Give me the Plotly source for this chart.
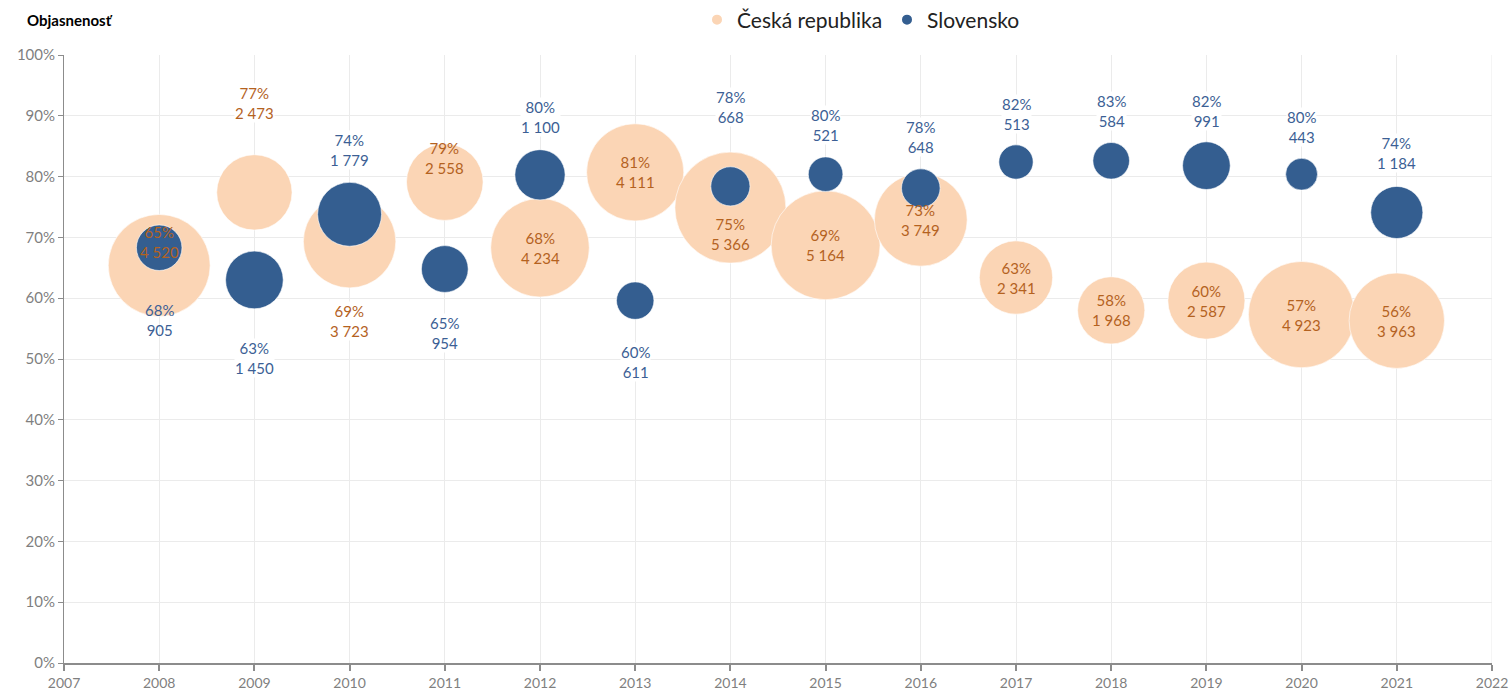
import plotly.graph_objects as go

years = [2008, 2009, 2010, 2011, 2012, 2013, 2014, 2015, 2016, 2017, 2018, 2019, 2020, 2021]

cz_name = "Česká republika"
cz_rate = [65.4, 77.4, 69.3, 79.1, 68.3, 80.7, 74.9, 68.7, 72.9, 63.4, 58.0, 59.6, 57.3, 56.3]
cz_count = [4520, 2473, 3723, 2558, 4234, 4111, 5366, 5164, 3749, 2341, 1968, 2587, 4923, 3963]

sk_name = "Slovensko"
sk_rate = [68.3, 63.0, 73.8, 64.8, 80.3, 59.6, 78.4, 80.4, 78.1, 82.4, 82.6, 81.8, 80.4, 74.1]
sk_count = [905, 1450, 1779, 954, 1100, 611, 668, 521, 648, 513, 584, 991, 443, 1184]

y_title = "Objasnenosť"
x_ticks = list(range(2007, 2023))
y_ticks = list(range(0, 101, 10))

# label styling (pixel offsets of labels relative to bubble centres, + = up)
cz_label_shift = [23, 89, -79, 24, 0, 0, -26, 0, 0, 0, 0, 0, 0, 0]
cz_label_bg = [False, True, True, False, False, False, False, False, False, False, False, False, False, False]
sk_label_shift = [-72, -78, 64, -64, 58, -61, 79, 49, 51, 48, 50, 55, 47, 59]
sk_label_bg = [False, True, True, True, True, True, True, True, True, True, True, True, True, True]

CZ_FILL = "#FBD5B5"
CZ_TEXT = "#B4621F"
SK_FILL = "#345E90"
SK_TEXT = "#3C5F95"
GRID = "#EBEBEB"
FONT = "Lato, 'Open Sans', sans-serif"

W, H = 1509, 691
ML, MR, MT, MB = 64, 17, 55, 28
PW, PH = W - ML - MR, H - MT - MB

max_count = max(cz_count + sk_count)
max_diam = 111
sizeref = 2 * max_count / max_diam ** 2


def fmt(n):
    return f"{n:,}".replace(",", " ")


fig = go.Figure()
for name, rate, count, fill in [(cz_name, cz_rate, cz_count, CZ_FILL), (sk_name, sk_rate, sk_count, SK_FILL)]:
    fig.add_trace(go.Scatter(
        x=years, y=rate, mode="markers", name=name,
        marker=dict(size=count, sizemode="area", sizeref=sizeref, color=fill,
                    opacity=1, line=dict(width=0.6, color="white")),
        hoverinfo="x+y+text", text=[fmt(c) for c in count],
    ))

annotations = []
for rate, count, shifts, bgs, col in [(cz_rate, cz_count, cz_label_shift, cz_label_bg, CZ_TEXT),
                                       (sk_rate, sk_count, sk_label_shift, sk_label_bg, SK_TEXT)]:
    for yr, r, c, s, bg in zip(years, rate, count, shifts, bgs):
        annotations.append(dict(
            x=yr, y=r, xref="x", yref="y", text=f"{round(r)}%<br>{fmt(c)}",
            showarrow=False, yshift=s, yanchor="middle", xanchor="center",
            font=dict(family=FONT, size=15, color=col),
            bgcolor="white" if bg else "rgba(0,0,0,0)", borderpad=0,
        ))

# screen-pixel positions converted to paper coordinates
def px(x):
    return (x - ML) / PW


def py(y):
    return 1 + (MT - y) / PH


annotations.append(dict(
    x=px(25), y=py(20), xref="paper", yref="paper", text=f"<b>{y_title}</b>",
    showarrow=False, xanchor="left", yanchor="middle",
    font=dict(family=FONT, size=15, color="black"),
))

fig.update_layout(
    width=W, height=H,
    margin=dict(l=ML, r=MR, t=MT, b=MB, autoexpand=False),
    paper_bgcolor="white", plot_bgcolor="white",
    font=dict(family=FONT, color="#7f7f7f"),
    showlegend=True,
    legend=dict(orientation="h", x=px(887), xanchor="center", y=py(20),
                yanchor="middle", font=dict(family=FONT, size=21, color="#222222"),
                itemsizing="constant", entrywidth=145, entrywidthmode="pixels",
                bgcolor="rgba(0,0,0,0)"),
    annotations=annotations,
    shapes=[dict(type="line", xref="x", yref="paper", x0=x_ticks[-1], x1=x_ticks[-1], y0=0, y1=1,
                 line=dict(color=GRID, width=1), layer="below")],
    xaxis=dict(range=[x_ticks[0], x_ticks[-1]], tickvals=x_ticks, ticktext=[str(t) for t in x_ticks],
               showgrid=True, gridcolor=GRID, gridwidth=1,
               showline=True, linecolor="#8C8C8C", linewidth=1.5,
               ticks="outside", ticklen=6, tickcolor="#8C8C8C", tickwidth=1.5,
               tickfont=dict(family=FONT, size=14, color="#7f7f7f"), zeroline=False,
               ticklabeloverflow="allow", fixedrange=True),
    yaxis=dict(range=[0, 100], tickvals=y_ticks, ticktext=[f"{t}%" for t in y_ticks],
               showgrid=True, gridcolor=GRID, gridwidth=1,
               showline=True, linecolor="#8C8C8C", linewidth=1,
               ticks="outside", ticklen=5, tickcolor="#8C8C8C",
               tickfont=dict(family=FONT, size=15, color="#7f7f7f"), zeroline=False,
               ticklabeloverflow="allow", fixedrange=True),
)

fig.write_html("out.html", config={"displayModeBar": False},
               post_script="document.body.style.margin='0';document.body.style.overflow='hidden';")
